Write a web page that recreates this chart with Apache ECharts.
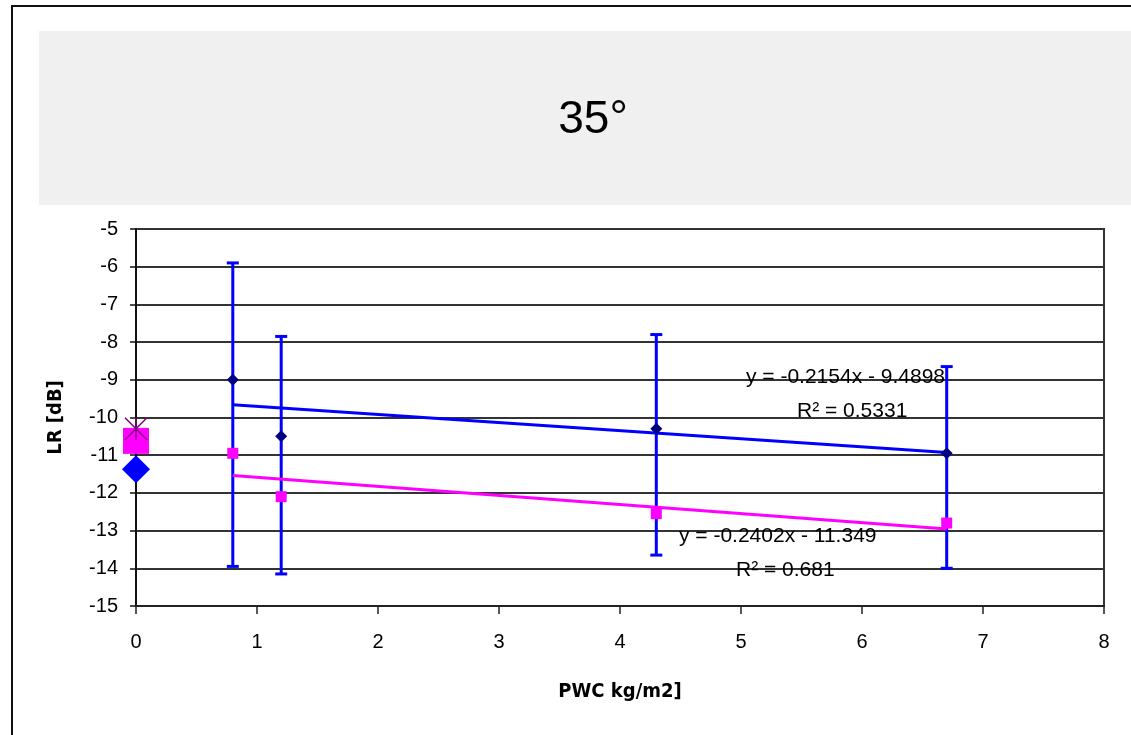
<!DOCTYPE html>
<html>
<head>
<meta charset="utf-8">
<script src="https://cdn.jsdelivr.net/npm/echarts@6/dist/echarts.min.js"></script>
<style>
  html, body { margin: 0; padding: 0; background: #fff; }
  .frame {
    position: absolute; left: 11px; top: 5px; width: 1200px; height: 800px;
    border-left: 2px solid #111; border-top: 2px solid #111;
  }
  .titleband {
    position: absolute; left: 39px; top: 31px; width: 1100px; height: 174px;
    background: #f0f0f0;
  }
  #chart { position: absolute; left: 0; top: 0; width: 1131px; height: 735px; }
</style>
</head>
<body>
<div class="frame"></div>
<div class="titleband"></div>
<div id="chart"></div>
<script>
// data
const pwc = [0.8, 1.2, 4.3, 6.7];
const lrBlue = [-9.0, -10.5, -10.3, -10.95];
const lrPink = [-10.95, -12.1, -12.55, -12.8];
const errHigh = [-5.9, -7.85, -7.8, -8.65];
const errLow = [-13.95, -14.15, -13.65, -14.0];
// trend line ends
const trendX = [0.8, 6.7];
const trendBlue = [-9.66, -10.93];
const trendPink = [-11.54, -12.96];
// markers at PWC = 0
const zeroSquare = -10.62;
const zeroDiamond = -11.37;
const zeroStar = -10.3;

const eqBlue = ['y = -0.2154x - 9.4898', 'R² = 0.5331'];
const eqPink = ['y = -0.2402x - 11.349', 'R² = 0.681'];

const font = "'Liberation Sans', Arial, sans-serif";
const boldFont = "'Liberation Sans Narrow', 'DejaVu Sans Condensed', 'Liberation Sans', Arial, sans-serif";

const chart = echarts.init(document.getElementById('chart'));

const pairs = (xs, ys) => xs.map((x, i) => [x, ys[i]]);

chart.setOption({
  animation: false,
  title: {
    text: '35°',
    left: 588, top: 92, textAlign: 'center',
    textStyle: { fontFamily: font, fontSize: 46, fontWeight: 'normal', color: '#000' }
  },
  grid: {
    left: 136, right: 27, top: 229, bottom: 129,
    show: true, borderColor: '#333', borderWidth: 2, backgroundColor: 'transparent'
  },
  xAxis: {
    type: 'value', min: 0, max: 8, interval: 1,
    name: 'PWC kg/m2]', nameLocation: 'middle', nameGap: 76,
    nameTextStyle: { fontFamily: boldFont, fontSize: 20, fontWeight: 'bold', color: '#000' },
    axisLine: { onZero: false, lineStyle: { color: '#222', width: 2 } },
    axisTick: { length: 8, lineStyle: { color: '#222', width: 1.5 } },
    axisLabel: { fontFamily: font, fontSize: 20, color: '#000', margin: 26 },
    splitLine: { show: false }
  },
  yAxis: {
    type: 'value', min: -15, max: -5, interval: 1,
    name: 'LR [dB]', nameLocation: 'middle', nameGap: 70, nameRotate: 90,
    nameTextStyle: { fontFamily: boldFont, fontSize: 20, fontWeight: 'bold', color: '#000' },
    axisLine: { show: true, lineStyle: { color: '#111', width: 2 } },
    axisTick: { show: true, length: 6, lineStyle: { color: '#111', width: 1.5 } },
    axisLabel: { fontFamily: font, fontSize: 20, color: '#000', margin: 18 },
    splitLine: { lineStyle: { color: '#333', width: 2 } }
  },
  series: [
    {
      type: 'custom',
      z: 2,
      data: pwc.map((x, i) => [x, errLow[i], errHigh[i]]),
      renderItem: function (params, api) {
        const lo = api.coord([api.value(0), api.value(1)]);
        const hi = api.coord([api.value(0), api.value(2)]);
        const cap = 6;
        const st = { stroke: '#0000ff', lineWidth: 3 };
        return {
          type: 'group',
          children: [
            { type: 'line', shape: { x1: lo[0], y1: lo[1], x2: hi[0], y2: hi[1] }, style: st },
            { type: 'line', shape: { x1: lo[0] - cap, y1: lo[1], x2: lo[0] + cap, y2: lo[1] }, style: st },
            { type: 'line', shape: { x1: hi[0] - cap, y1: hi[1], x2: hi[0] + cap, y2: hi[1] }, style: st }
          ]
        };
      }
    },
    {
      type: 'line', z: 3, symbol: 'none',
      data: pairs(trendX, trendBlue),
      lineStyle: { color: '#0000ff', width: 3 }
    },
    {
      type: 'line', z: 3, symbol: 'none',
      data: pairs(trendX, trendPink),
      lineStyle: { color: '#ff00ff', width: 3 }
    },
    {
      type: 'scatter', z: 4, symbol: 'diamond', symbolSize: 12,
      data: pairs(pwc, lrBlue),
      itemStyle: { color: '#000080', opacity: 1 }
    },
    {
      type: 'scatter', z: 4, symbol: 'rect', symbolSize: 11,
      data: pairs(pwc, lrPink),
      itemStyle: { color: '#ff00ff', opacity: 1 }
    },
    {
      type: 'scatter', z: 4, symbol: 'diamond', symbolSize: 28,
      data: [[0, zeroDiamond]],
      itemStyle: { color: '#0000ff', opacity: 1 }
    },
    {
      type: 'scatter', z: 4, symbol: 'rect', symbolSize: 26,
      data: [[0, zeroSquare]],
      itemStyle: { color: '#ff00ff', opacity: 1 }
    },
    {
      type: 'scatter', z: 5,
      symbol: 'path://M0,0 L10,10 M10,0 L0,10 M5,0 L5,10',
      symbolSize: 22,
      data: [[0, zeroStar]],
      itemStyle: { color: 'none', borderColor: '#800080', borderWidth: 1.5, opacity: 1 }
    }
  ],
  graphic: [
    { type: 'text', left: 746, top: 367, z: 10,
      style: { text: eqBlue[0], font: '21px ' + font, fill: '#000' } },
    { type: 'text', left: 797, top: 401, z: 10,
      style: { text: eqBlue[1], font: '21px ' + font, fill: '#000' } },
    { type: 'text', left: 679, top: 526, z: 10,
      style: { text: eqPink[0], font: '21px ' + font, fill: '#000' } },
    { type: 'text', left: 736, top: 560, z: 10,
      style: { text: eqPink[1], font: '21px ' + font, fill: '#000' } }
  ]
});
</script>
</body>
</html>
